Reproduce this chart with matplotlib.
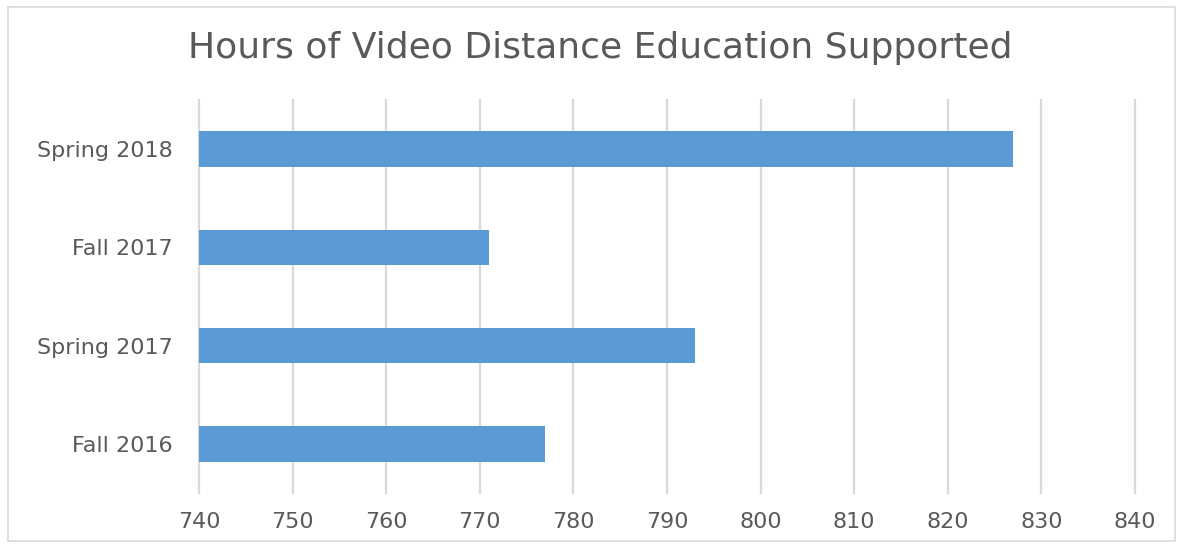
import matplotlib.pyplot as plt
from matplotlib.patches import Rectangle

# Hours supported per term
terms = ['Fall 2016', 'Spring 2017', 'Fall 2017', 'Spring 2018']
hours = [777, 793, 771, 827]
x_ticks = [740, 750, 760, 770, 780, 790, 800, 810, 820, 830, 840]

bar_color = '#5b9bd5'
text_color = '#595959'
grid_color = '#d9d9d9'

fig = plt.figure(figsize=(11.83, 5.45), dpi=100)
ax = fig.add_axes([0.1682, 0.0954, 0.7912, 0.7211])

# bars start at the left edge of the axis (740)
ax.barh(range(len(terms)), [v - x_ticks[0] for v in hours], left=x_ticks[0],
        height=0.36, color=bar_color, zorder=3)

ax.set_xlim(x_ticks[0], x_ticks[-1])
ax.set_ylim(-0.5, len(terms) - 0.5)
ax.set_xticks(x_ticks)
ax.set_xticklabels([str(t) for t in x_ticks])
ax.set_yticks(range(len(terms)))
ax.set_yticklabels(terms)

ax.grid(axis='x', color=grid_color, linewidth=1.6, zorder=0)
# keep the edge gridlines (740 and 840) at full width
for gl in ax.get_xgridlines():
    gl.set_clip_on(False)
ax.tick_params(axis='both', length=0, colors=text_color, labelsize=16)
ax.tick_params(axis='x', pad=14)
ax.tick_params(axis='y', pad=19)
for s in ax.spines.values():
    s.set_visible(False)

for lbl in ax.get_xticklabels() + ax.get_yticklabels():
    lbl.set_fontfamily('DejaVu Sans')

fig.text(0.507, 0.912, 'Hours of Video Distance Education Supported',
         ha='center', va='center', fontsize=26, color=text_color,
         family='DejaVu Sans')

# light frame around the chart area
fig.patches.append(Rectangle((0.007, 0.008), 0.986, 0.979, transform=fig.transFigure,
                             fill=False, edgecolor='#d9d9d9', linewidth=1.2))

fig.savefig('out.png', dpi=100)
